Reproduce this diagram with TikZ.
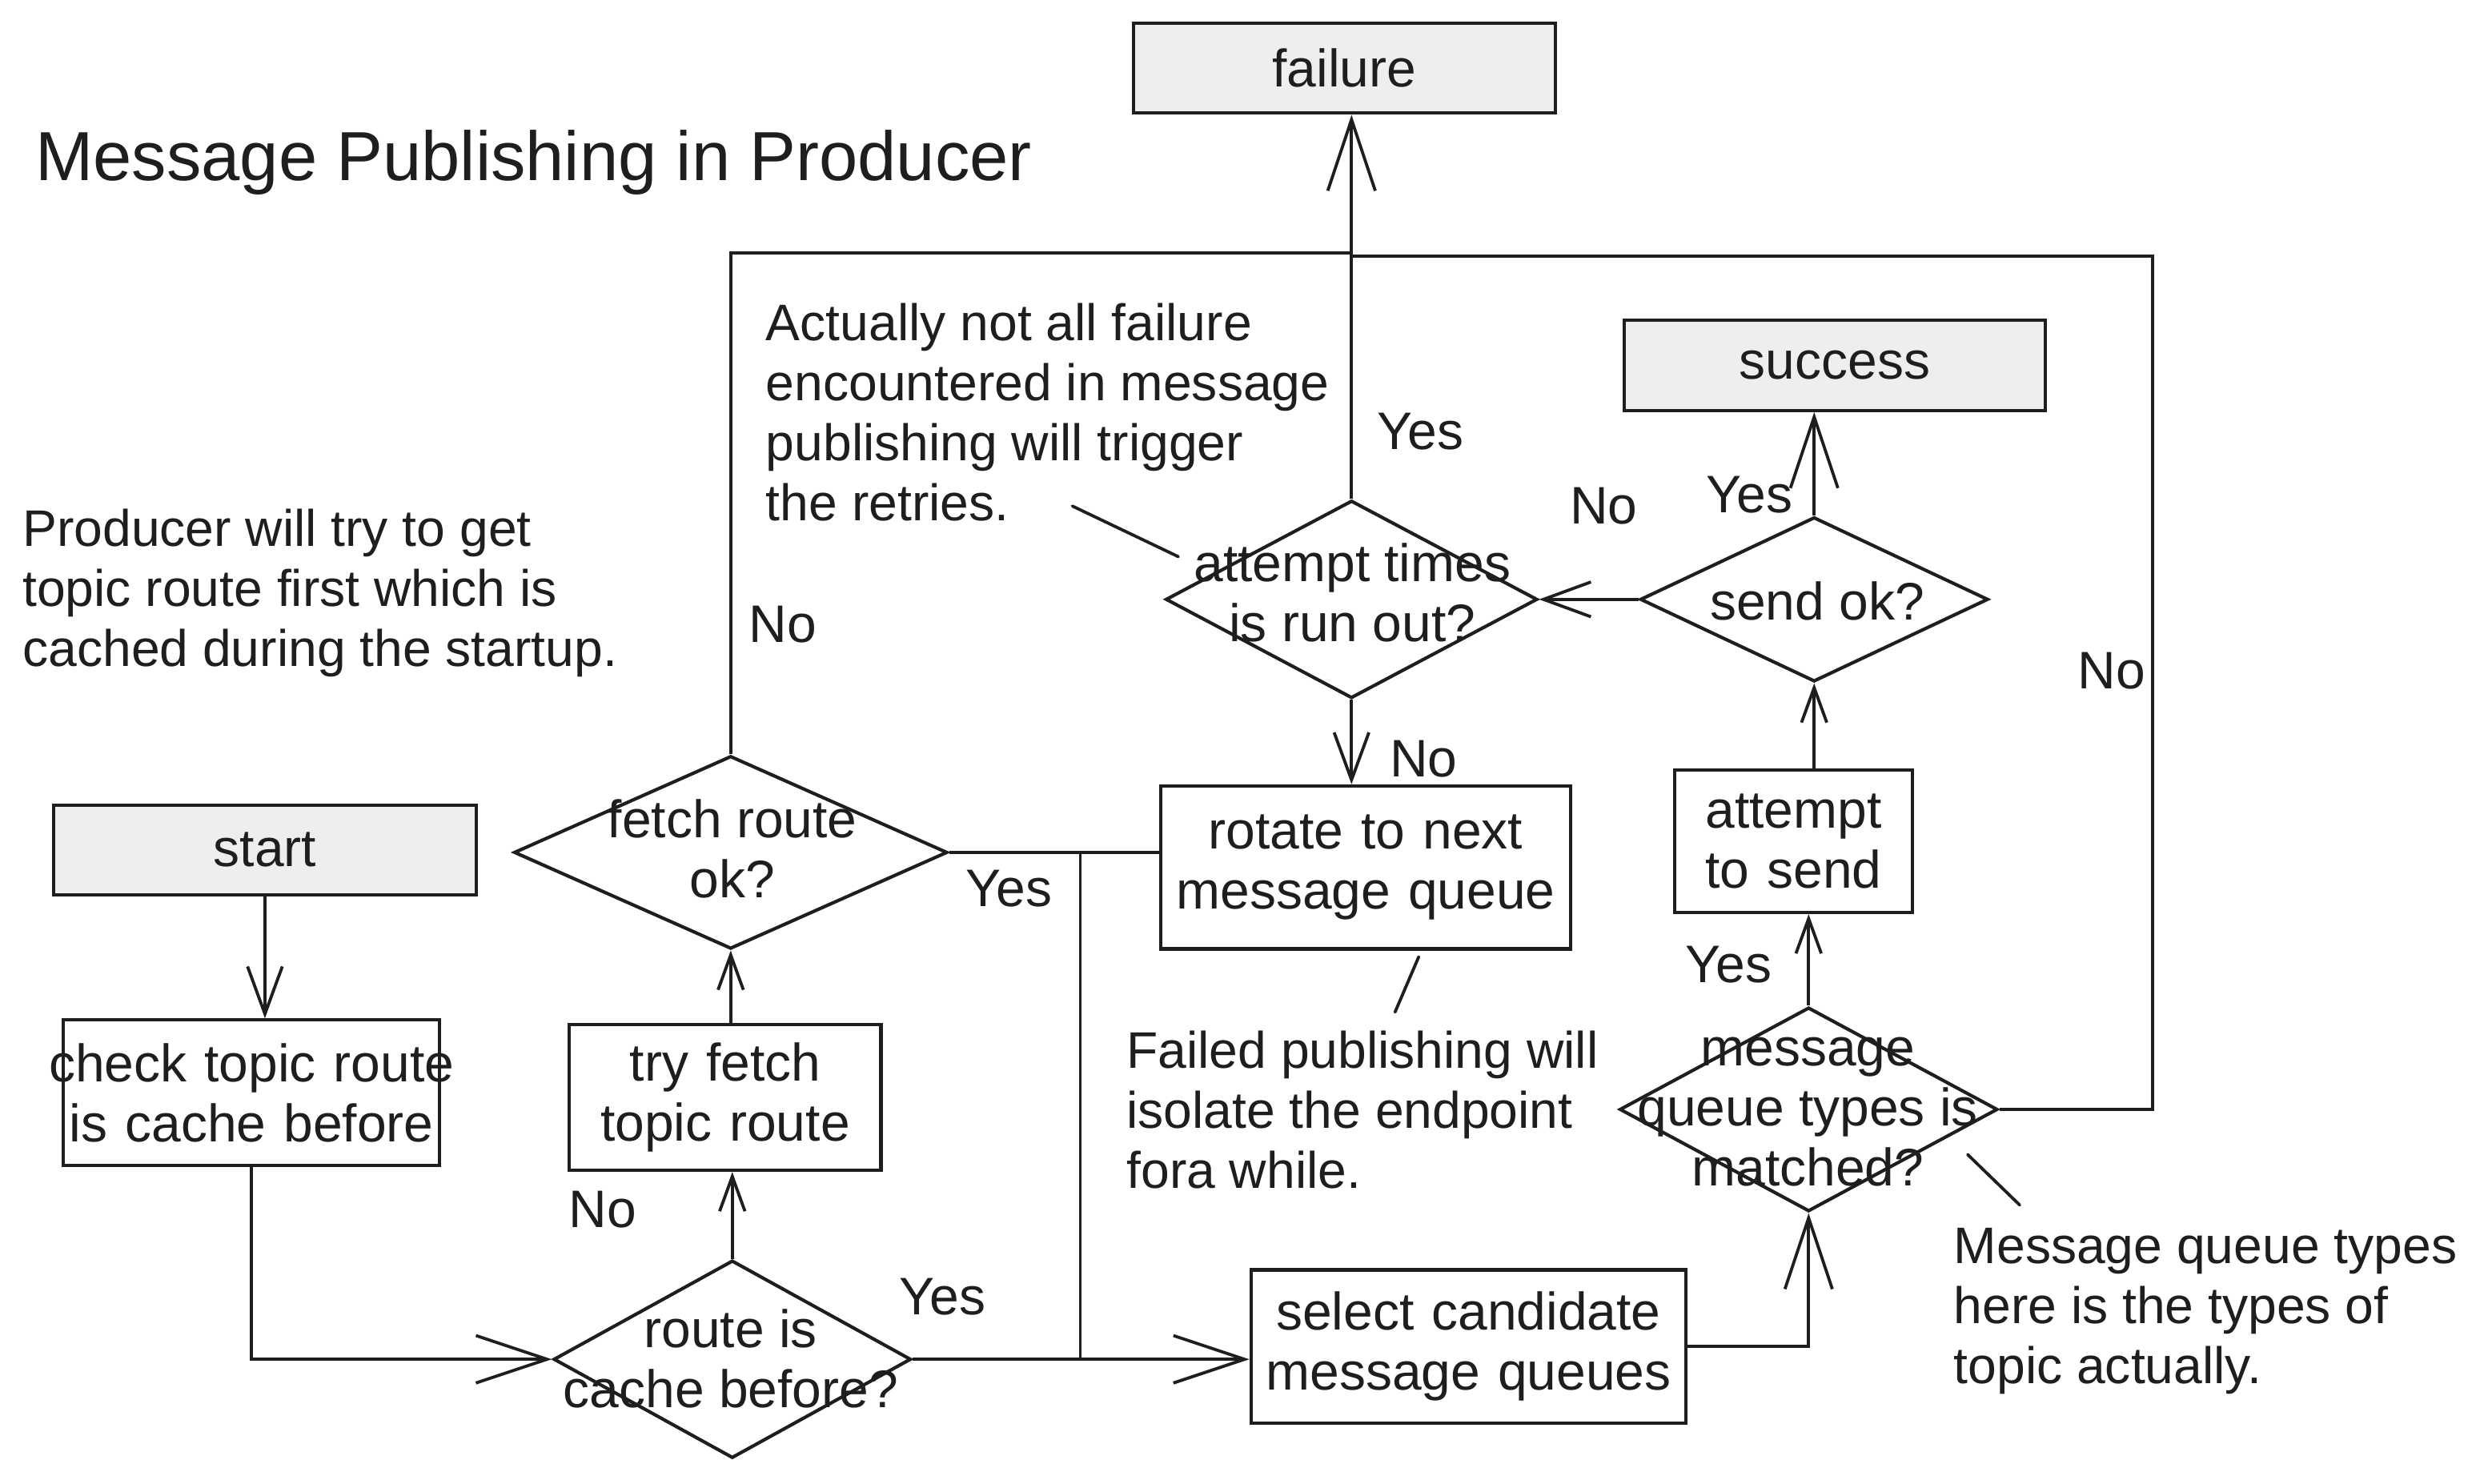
\documentclass[tikz,border=0pt]{standalone}
\usepackage{fontspec}
\setmainfont{Liberation Sans}
\usepackage{xcolor}
\usepackage{tikz}
\usetikzlibrary{shapes.geometric,arrows.meta,positioning,calc}
\definecolor{mpink}{HTML}{1E1E1E}
\definecolor{mpfill}{HTML}{EEEEEE}
\tikzset{
  term/.style={rectangle,draw=mpink,line width=1.2pt,fill=mpfill,
               minimum width=5.34cm,minimum height=1.14cm,inner sep=0pt,
               font=\fontsize{19}{22}\selectfont,text=mpink},
  proc/.style={rectangle,draw=mpink,line width=1.2pt,fill=white,
               minimum height=1.84cm,inner sep=0pt,align=center,
               font=\fontsize{19}{21.6}\selectfont,text=mpink},
  dec/.style={diamond,draw=mpink,line width=1.2pt,fill=white,inner sep=0pt},
  dectext/.style={align=center,inner sep=0pt,
                  font=\fontsize{19}{21.6}\selectfont,text=mpink},
  note/.style={align=left,inner sep=0pt,anchor=west,
               font=\fontsize{18.5}{21.6}\selectfont,text=mpink},
  answer/.style={inner sep=0pt,font=\fontsize{19}{22}\selectfont,text=mpink},
  flow/.style={-{Straight Barb[length=6mm,width=4.4mm]},line width=1.1pt,draw=mpink},
  longflow/.style={-{Straight Barb[length=9mm,width=6mm]},line width=1.1pt,draw=mpink},
  shortflow/.style={-{Straight Barb[length=4.4mm,width=3.2mm]},line width=1.1pt,draw=mpink},
  joint/.style={line width=1.1pt,draw=mpink},
  pointer/.style={line width=1.1pt,draw=mpink,line cap=round},
}

\begin{document}
\begin{tikzpicture}
  \useasboundingbox (0,0) rectangle (31.36,18.76);
  \node[note,font=\fontsize{25}{30}\selectfont] (title) at (0.44,16.70) {Message Publishing in Producer};

  \node[term] (failure) at (17.00,17.90) {failure};
  \node[term,minimum width=5.32cm] (success) at (23.20,14.14) {success};
  \node[term] (start) at (3.35,8.01) {start};

  \node[proc,text width=4.76cm] (check) at (3.18,4.94) {\makebox[0pt]{check topic route}\\\makebox[0pt]{is cache before}};
  \node[proc,text width=3.94cm] (tryfetch) at (9.17,4.88) {try fetch\\topic route};
  \node[proc,text width=5.18cm,minimum height=2.06cm] (rotate) at (17.27,7.79) {rotate to next\\message queue};
  \node[proc,text width=3.0cm,minimum height=1.8cm] (attemptsend) at (22.68,8.12) {attempt\\to send};
  \node[proc,text width=5.5cm,minimum height=1.94cm] (select) at (18.57,1.73) {select candidate\\message queues};

  \node[dec,minimum width=5.48cm,minimum height=2.44cm] (fetchok) at (9.24,7.98) {};
  \node[dec,minimum width=4.52cm,minimum height=2.5cm] (routeq) at (9.26,1.57) {};
  \node[dec,minimum width=4.70cm,minimum height=2.5cm] (attempttimes) at (17.09,11.18) {};
  \node[dec,minimum width=4.40cm,minimum height=2.08cm] (sendok) at (22.94,11.18) {};
  \node[dec,minimum width=4.78cm,minimum height=2.58cm] (mqmatch) at (22.87,4.73) {};
  \node[dectext] (fetchoktext) at (9.26,8.03) {fetch route\\ok?};
  \node[dectext] (routeqtext) at (9.24,1.58) {route is\\cache before?};
  \node[dectext] (attempttimestext) at (17.10,11.26) {attempt times\\is run out?};
  \node[dectext] (sendoktext) at (22.98,11.16) {send ok?};
  \node[dectext] (mqmatchtext) at (22.86,4.70) {message\\queue types is\\matched?};

  \node[note] (cachenote) at (0.28,11.26) {Producer will try to get\\topic route first which is\\cached during the startup.};
  \node[note] (retrynote) at (9.68,13.55) {Actually not all failure\\encountered in message\\publishing will trigger\\the retries.};
  \node[note] (isolatenote) at (14.24,4.72) {Failed publishing will\\isolate the endpoint\\fora while.};
  \node[note] (typesnote) at (24.70,2.18) {Message queue types\\here is the types of\\topic actually.};

  \node[answer] (routeno) at (7.62,3.46) {No};
  \node[answer] (routeyes) at (11.92,2.36) {Yes};
  \node[answer] (fetchno) at (9.90,10.86) {No};
  \node[answer] (fetchyes) at (12.76,7.52) {Yes};
  \node[answer] (attemptyes) at (17.96,13.30) {Yes};
  \node[answer] (attemptno) at (18.00,9.16) {No};
  \node[answer] (sendno) at (20.28,12.36) {No};
  \node[answer] (sendyes) at (22.12,12.50) {Yes};
  \node[answer] (mqyes) at (21.86,6.56) {Yes};
  \node[answer] (mqno) at (26.70,10.28) {No};

  \coordinate (topjoin) at (attempttimes.north |- 0,15.56);
  \coordinate (rightcorner) at (27.22,15.52);
  \coordinate (yesbus) at (fetchok.east -| 13.66,0);
  \coordinate (retrytip) at (13.56,12.36);
  \coordinate (retryend) at (14.90,11.72);
  \coordinate (isolatetip) at (17.94,6.66);
  \coordinate (isolateend) at (17.64,5.96);
  \coordinate (typestip) at (24.88,4.16);
  \coordinate (typesend) at (25.54,3.52);

  \draw[flow] (start.south) -- (start.south |- check.north);
  \draw[longflow] (check.south) |- (routeq.west);
  \draw[shortflow] (routeq.north) -- (routeq.north |- tryfetch.south);
  \draw[shortflow] (fetchok.south |- tryfetch.north) -- (fetchok.south);
  \draw[joint] (fetchok.north) |- (topjoin);
  \draw[joint] (fetchok.east) -- (yesbus) -- (yesbus |- routeq.east);
  \draw[joint] (yesbus) -- (yesbus -| rotate.west);
  \draw[longflow] (routeq.east) -- (routeq.east -| select.west);
  \draw[longflow] (select.east) -| (mqmatch.south);
  \draw[shortflow] (mqmatch.north) -- (mqmatch.north |- attemptsend.south);
  \draw[shortflow] (sendok.south |- attemptsend.north) -- (sendok.south);
  \draw[longflow] (sendok.north) -- (sendok.north |- success.south);
  \draw[flow] (sendok.west) -- (attempttimes.east);
  \draw[longflow] (attempttimes.north) -- (attempttimes.north |- failure.south);
  \draw[flow] (attempttimes.south) -- (attempttimes.south |- rotate.north);
  \draw[joint] (mqmatch.east) -| (rightcorner) -- (rightcorner -| attempttimes.north);

  \draw[pointer] (retrytip) -- (retryend);
  \draw[pointer] (isolatetip) -- (isolateend);
  \draw[pointer] (typestip) -- (typesend);
\end{tikzpicture}
\end{document}
